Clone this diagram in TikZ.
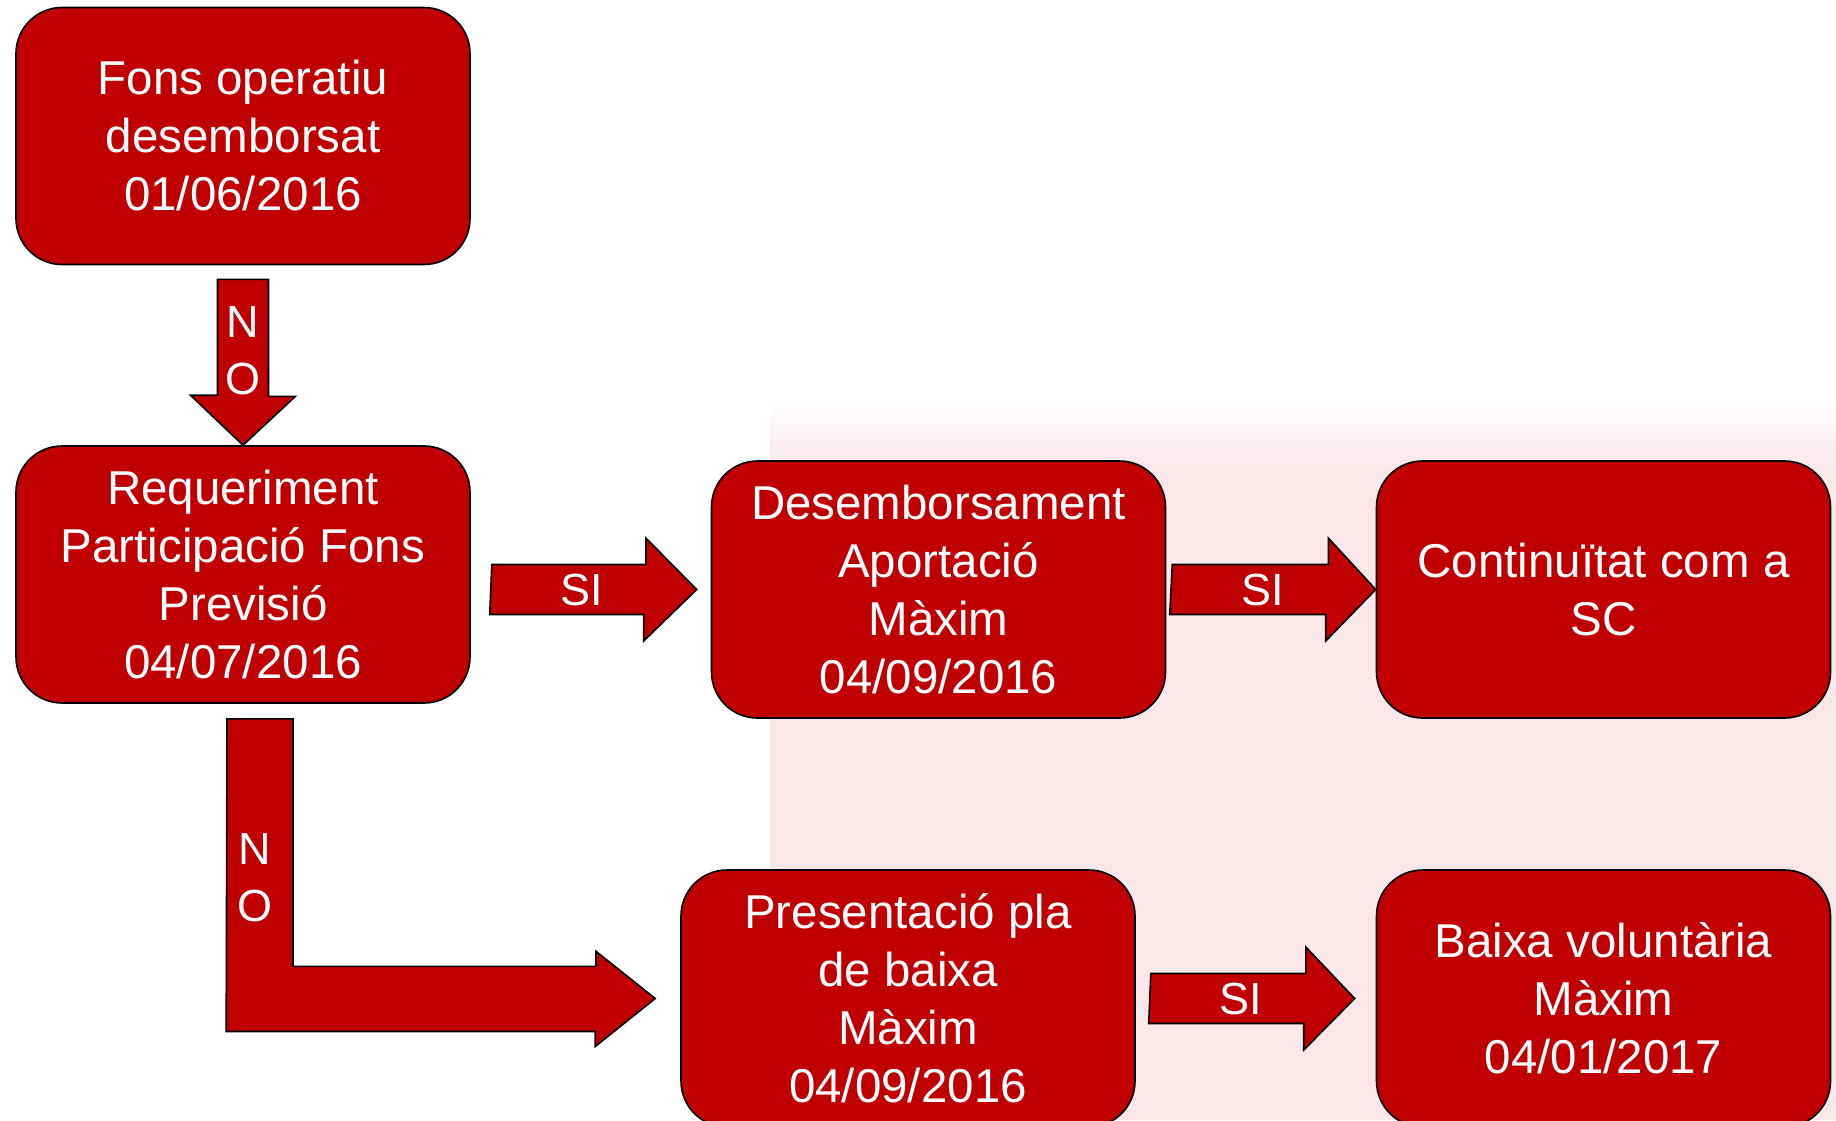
\documentclass[tikz,border=0pt]{standalone}
\usepackage{fontspec}
\setmainfont{Liberation Sans}
\usetikzlibrary{calc}
\definecolor{boxred}{RGB}{192,0,0}
\definecolor{wmpink}{RGB}{250,231,234}
\tikzset{
  box/.style={draw=black, line width=1.6pt, fill=boxred, rounded corners=46pt,
    minimum width=454pt, minimum height=257pt, inner sep=0pt,
    text=white, align=center, font=\fontsize{47.5}{58}\selectfont},
  barrow/.style={draw=black, line width=1.6pt, fill=boxred, line join=miter},
  lbl/.style={text=white, align=center, inner sep=0pt, font=\fontsize{45}{57}\selectfont}
}
\begin{document}
\begin{tikzpicture}[x=1pt,y=-1pt]
\useasboundingbox (0,0) rectangle (1836,1120);
\fill[white] (0,0) rectangle (1836,1120);
% faint background watermark
\shade[top color=white, bottom color=wmpink] (770,395) rectangle (1836,470);
\fill[wmpink] (770,469) rectangle (1836,1120);
% boxes
\node[box] (b1) at (243,136) {Fons operatiu\\desemborsat\\01/06/2016};
\node[box] (b2) at (243,574.5) {Requeriment\\Participació Fons\\Previsió\\04/07/2016};
\node[box] (b3) at (938.5,589.5) {Desemborsament\\Aportació\\Màxim\\04/09/2016};
\node[box] (b4) at (1603.5,589.5) {Continuïtat com a\\SC};
\node[box] (b5) at (908,998.5) {Presentació pla\\de baixa\\Màxim\\04/09/2016};
\node[box] (b6) at (1603.5,998.5) {Baixa voluntària\\Màxim\\04/01/2017};
% NO (down)
\draw[barrow] ($(b1.south)+(-25.5,14)$) -- ++(51,0) -- ++(0,117) -- ++(27,0)
  -- (b2.north) -- ++(-52.5,-50) -- ++(27,0) -- cycle;
\node[lbl] (n1) at ($(b1.south)+(0,85)$) {N\\O};
% SI 1
\draw[barrow] ($(b2.east|-b3.west)+(21,-25)$) -- ++(154,0) -- ++(0,-26.5)
  -- ($(b3.west)+(-14,0)$) -- ++(-53,51.5) -- ++(0,-26.5) -- ++(-154,0) -- cycle;
\node[lbl] (s1) at ($(b2.east|-b3.west)+(111,0)$) {SI};
% SI 2
\draw[barrow] ($(b3.east)+(6,-25)$) -- ++(156,0) -- ++(0,-26.5)
  -- (b4.west) -- ++(-50,51.5) -- ++(0,-26.5) -- ++(-156,0) -- cycle;
\node[lbl] (s2) at ($(b3.east)+(96,0)$) {SI};
% SI 3
\draw[barrow] ($(b5.east)+(15,-25)$) -- ++(155,0) -- ++(0,-26.5)
  -- ($(b6.west)+(-21,0)$) -- ++(-51,51.5) -- ++(0,-26.5) -- ++(-155,0) -- cycle;
\node[lbl] (s3) at ($(b5.east)+(105,0)$) {SI};
% NO (bent)
\draw[barrow] ($(b2.south)+(-16,15)$) -- ++(66,0) -- ++(0,247.5) -- ++(303,0)
  -- ++(0,-15) -- ($(b5.west)+(-25,0)$) -- ++(-60,48) -- ++(0,-15) -- ++(-369,0) -- cycle;
\node[lbl] (n2) at ($(b2.south)+(12,173.5)$) {N\\O};
\end{tikzpicture}
\end{document}
